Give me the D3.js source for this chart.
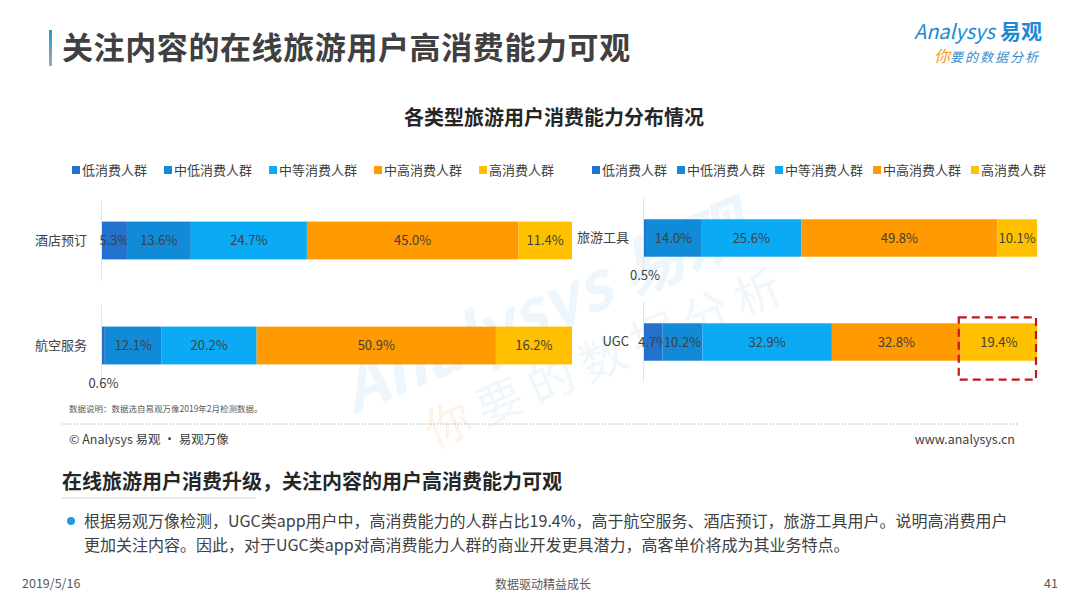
<!DOCTYPE html>
<html>
<head>
<meta charset="utf-8">
<script src="https://cdn.jsdelivr.net/npm/d3@7"></script>
<style>
  html, body { margin: 0; padding: 0; background: #fff; }
  svg { display: block; font-family: "Noto Sans CJK SC", "Noto Sans", sans-serif; }
</style>
</head>
<body>
<div class="chart-container"></div>
<script>
// data
const series = ['低消费人群', '中低消费人群', '中等消费人群', '中高消费人群', '高消费人群'];
const colors = ['#2271CC', '#118AD8', '#0BAAF5', '#FF9A00', '#FFC000'];

const leftCats = ['酒店预订', '航空服务'];
const leftValues = [
    [5.3, 13.6, 24.7, 45.0, 11.4],
    [0.6, 12.1, 20.2, 50.9, 16.2]
];
const rightCats = ['旅游工具', 'UGC'];
const rightValues = [
    [0.5, 14.0, 25.6, 49.8, 10.1],
    [4.7, 10.2, 32.9, 32.8, 19.4]
];

const highlight = { cat: 'UGC', key: '高消费人群' };

const width = 1080;
const height = 607;
const textColor = '#404040';

const svg = d3.select('.chart-container').append('svg')
    .attr('width', width)
    .attr('height', height);

// page title
const grad = svg.append('defs').append('linearGradient')
    .attr('id', 'accent').attr('x1', 0).attr('y1', 0).attr('x2', 0).attr('y2', 1);
grad.append('stop').attr('offset', '0%').attr('stop-color', '#1B9CE2');
grad.append('stop').attr('offset', '100%').attr('stop-color', '#A6A6A6');

svg.append('rect')
    .attr('x', 49).attr('y', 30).attr('width', 3).attr('height', 36)
    .attr('fill', 'url(#accent)');

svg.append('text')
    .attr('x', 62).attr('y', 59)
    .attr('font-size', 31).attr('font-weight', 'bold')
    .attr('letter-spacing', 0.6)
    .attr('fill', textColor)
    .text('关注内容的在线旅游用户高消费能力可观');

// logo
const logo = svg.append('g');
logo.append('text')
    .attr('x', 914).attr('y', 39)
    .attr('font-size', 20).attr('font-style', 'italic')
    .attr('fill', '#1A8AD4')
    .text('Analysys');
logo.append('text')
    .attr('x', 1000).attr('y', 39)
    .attr('font-size', 21).attr('font-weight', 'bold')
    .attr('fill', '#1A8AD4')
    .text('易观');
const slogan = logo.append('text')
    .attr('x', 934).attr('y', 62)
    .attr('font-size', 13).attr('font-style', 'italic');
slogan.append('tspan').attr('fill', '#F39A1E').attr('font-size', 16).text('你');
slogan.append('tspan').attr('fill', '#3A8FCB').attr('letter-spacing', 2).text('要的数据分析');

// watermark
const wm = svg.append('g')
    .attr('transform', 'translate(400,395) rotate(-23)')
    .attr('opacity', 0.4);
wm.append('text')
    .attr('x', -50).attr('y', 0)
    .attr('font-size', 66).attr('font-weight', 'bold').attr('font-style', 'italic')
    .attr('fill', '#D2E9F8')
    .text('Analysys 易观');
const wm2 = wm.append('text')
    .attr('x', 10).attr('y', 62)
    .attr('font-size', 46).attr('letter-spacing', 10);
wm2.append('tspan').attr('fill', '#FBE2C6').text('你');
wm2.append('tspan').attr('fill', '#DCEDF8').text('要的数据分析');

// chart title
svg.append('text')
    .attr('x', 554).attr('y', 125)
    .attr('text-anchor', 'middle')
    .attr('font-size', 20).attr('font-weight', 'bold')
    .attr('fill', '#262626')
    .text('各类型旅游用户消费能力分布情况');

function drawPanel(cats, values, opt) {
    const rows = cats.map((c, i) => {
        const r = { cat: c };
        series.forEach((s, j) => r[s] = values[i][j]);
        return r;
    });
    const stacked = d3.stack().keys(series)(rows);

    const x = d3.scaleLinear()
        .domain([0, 100])
        .range(opt.xRange);

    const y = d3.scaleBand()
        .domain(cats)
        .range(opt.yRange)
        .paddingInner(0.64)
        .paddingOuter(0.32);

    const g = svg.append('g');

    // legend
    const legend = g.append('g')
        .attr('transform', `translate(${opt.legendX},170)`);
    let lx = 0;
    series.forEach((s, i) => {
        const item = legend.append('g').attr('transform', `translate(${lx},0)`);
        item.append('rect')
            .attr('x', 0).attr('y', -4)
            .attr('width', 8).attr('height', 8)
            .attr('fill', colors[i]);
        const t = item.append('text')
            .attr('x', 10).attr('y', 0)
            .attr('dy', '0.35em')
            .attr('font-size', 13)
            .attr('fill', textColor)
            .text(s);
        lx += 10 + t.node().getComputedTextLength() + opt.legendGap;
    });

    // category axis
    const axis = g.append('g')
        .attr('transform', `translate(${opt.xRange[0]},0)`)
        .call(d3.axisLeft(y).tickSize(0).tickPadding(15));
    axis.select('.domain').remove();
    axis.selectAll('text')
        .attr('font-size', 13)
        .attr('fill', textColor)
        .attr('font-family', '"Noto Sans CJK SC", sans-serif');

    g.selectAll('line.band')
        .data(cats)
        .enter()
        .append('line')
        .attr('class', 'band')
        .attr('x1', opt.xRange[0] - 0.5).attr('x2', opt.xRange[0] - 0.5)
        .attr('y1', d => y(d) + y.bandwidth() / 2 - 40)
        .attr('y2', d => y(d) + y.bandwidth() / 2 + 40)
        .attr('stroke', '#E3E3E3');

    // bars
    const layer = g.selectAll('g.layer')
        .data(stacked)
        .enter()
        .append('g')
        .attr('class', 'layer')
        .attr('fill', (d, i) => colors[i]);

    layer.selectAll('rect')
        .data(d => d.map(p => ({ key: d.key, p: p })))
        .enter()
        .append('rect')
        .attr('x', d => x(d.p[0]))
        .attr('y', d => y(d.p.data.cat))
        .attr('width', d => x(d.p[1]) - x(d.p[0]))
        .attr('height', y.bandwidth());

    // value labels
    layer.selectAll('text')
        .data(d => d.map(p => ({ key: d.key, p: p })))
        .enter()
        .append('text')
        .attr('x', d => (x(d.p[0]) + x(d.p[1])) / 2)
        .attr('y', d => {
            const v = d.p[1] - d.p[0];
            const mid = y(d.p.data.cat) + y.bandwidth() / 2;
            return v < 1 ? mid + y.bandwidth() / 2 + 19 : mid;
        })
        .attr('dy', '0.35em')
        .attr('text-anchor', 'middle')
        .attr('font-size', 13)
        .attr('fill', textColor)
        .text(d => d3.format('.1f')(d.p[1] - d.p[0]) + '%');

    // highlight box
    stacked.filter(s => s.key === highlight.key).forEach(s => {
        s.filter(p => p.data.cat === highlight.cat).forEach(p => {
            g.append('rect')
                .attr('x', x(p[0]) - 2)
                .attr('y', y(p.data.cat) - 6)
                .attr('width', x(p[1]) - x(p[0]) + 1)
                .attr('height', y.bandwidth() + 25)
                .attr('fill', 'none')
                .attr('stroke', '#C4161C')
                .attr('stroke-width', 2.2)
                .attr('stroke-dasharray', '8,5');
        });
    });
}

drawPanel(leftCats, leftValues, {
    xRange: [102, 572],
    yRange: [188, 398],
    legendX: 72,
    legendGap: 17
});

drawPanel(rightCats, rightValues, {
    xRange: [644, 1037],
    yRange: [186, 394],
    legendX: 592,
    legendGap: 10
});

// notes and footer
svg.append('text')
    .attr('x', 69).attr('y', 412)
    .attr('font-size', 8.5)
    .attr('fill', '#595959')
    .text('数据说明：数据选自易观万像2019年2月检测数据。');

svg.append('line')
    .attr('x1', 62).attr('x2', 1018)
    .attr('y1', 424).attr('y2', 424)
    .attr('stroke', '#9A9A9A')
    .attr('stroke-dasharray', '1,2');

svg.append('text')
    .attr('x', 69).attr('y', 444)
    .attr('font-size', 12.5)
    .attr('fill', textColor)
    .text('© Analysys 易观 · 易观万像');

svg.append('text')
    .attr('x', 1015).attr('y', 444)
    .attr('text-anchor', 'end')
    .attr('font-size', 12.5)
    .attr('fill', textColor)
    .text('www.analysys.cn');

svg.append('text')
    .attr('x', 62).attr('y', 489)
    .attr('font-size', 20).attr('font-weight', 'bold')
    .attr('fill', '#262626')
    .text('在线旅游用户消费升级，关注内容的用户高消费能力可观');

svg.append('line')
    .attr('x1', 62).attr('x2', 256)
    .attr('y1', 498).attr('y2', 498)
    .attr('stroke', '#D0D0D0');

svg.append('circle')
    .attr('cx', 71).attr('cy', 521).attr('r', 4)
    .attr('fill', '#1A9BE0');

const bodyLines = [
    '根据易观万像检测，UGC类app用户中，高消费能力的人群占比19.4%，高于航空服务、酒店预订，旅游工具用户。说明高消费用户',
    '更加关注内容。因此，对于UGC类app对高消费能力人群的商业开发更具潜力，高客单价将成为其业务特点。'
];
svg.selectAll('text.body')
    .data(bodyLines)
    .enter()
    .append('text')
    .attr('class', 'body')
    .attr('x', 84)
    .attr('y', (d, i) => 527 + i * 24)
    .attr('font-size', 16)
    .attr('fill', textColor)
    .text(d => d);

svg.append('text')
    .attr('x', 22).attr('y', 588)
    .attr('font-size', 12.5)
    .attr('fill', '#595959')
    .text('2019/5/16');

svg.append('text')
    .attr('x', 543).attr('y', 589)
    .attr('text-anchor', 'middle')
    .attr('font-size', 12)
    .attr('fill', '#595959')
    .text('数据驱动精益成长');

svg.append('text')
    .attr('x', 1058).attr('y', 588)
    .attr('text-anchor', 'end')
    .attr('font-size', 12.5)
    .attr('fill', '#595959')
    .text('41');
</script>
</body>
</html>
